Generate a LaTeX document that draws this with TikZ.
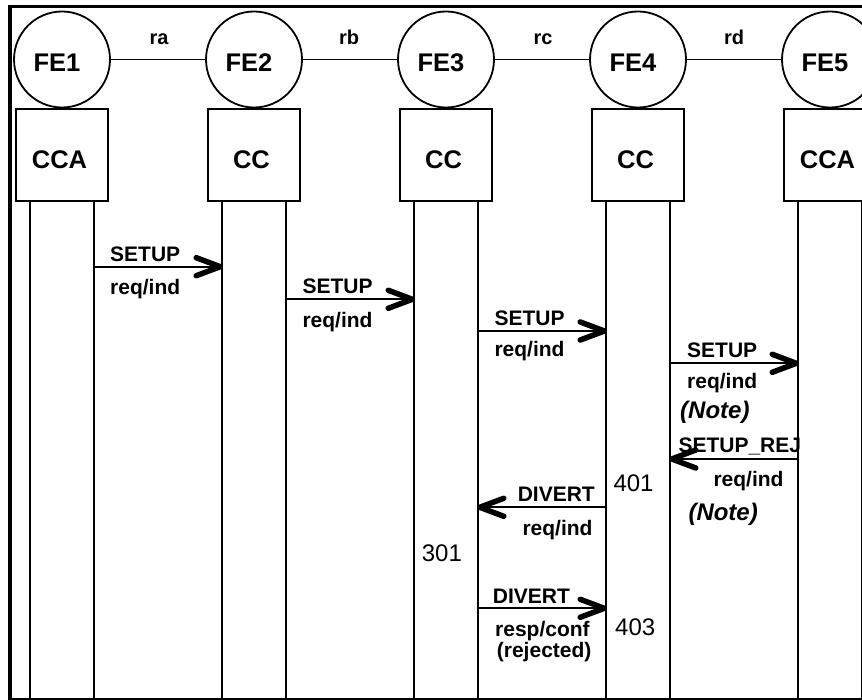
\documentclass[tikz,border=0pt]{standalone}
\usepackage{fontspec}
\setmainfont{Liberation Sans}
\usetikzlibrary{arrows.meta}
\begin{document}
\begin{tikzpicture}[x=1pt,y=-1pt,
  fe/.style={circle,draw,line width=1.8pt,minimum size=96pt,inner sep=0pt},
  ccbox/.style={draw,line width=1.8pt,minimum width=92pt,minimum height=92pt,inner sep=0pt},
  big/.style={font=\fontsize{25.5}{30}\selectfont\bfseries,inner sep=0pt,anchor=base},
  iface/.style={font=\fontsize{20}{24}\selectfont\bfseries,inner sep=0pt,anchor=base},
  lbl/.style={font=\fontsize{21}{24}\selectfont\bfseries,inner sep=0pt,anchor=base west},
  lblr/.style={lbl,anchor=base east},
  note/.style={font=\fontsize{24}{28}\selectfont\bfseries\itshape,inner sep=0pt,anchor=base west},
  num/.style={font=\fontsize{24}{28}\selectfont,inner sep=0pt,anchor=base west},
  life/.style={line width=1.8pt},
  link/.style={line width=1.6pt},
  msg/.style={line width=1.9pt,-{Straight Barb[length=24pt,width=18pt,line width=5.5pt,round]}}]
\useasboundingbox (0,0) rectangle (862,700);
\clip (0,0) rectangle (862,700);
\fill[white] (0,0) rectangle (862,700);
% frame
\draw[line width=3.5pt] (10,700) -- (10,6.5) -- (862,6.5);
\draw[line width=1.4pt] (8,699) -- (862,699);
% entities
\foreach \i/\lab/\nm in {1/FE1/CCA,2/FE2/CC,3/FE3/CC,4/FE4/CC,5/FE5/CCA} {
  \pgfmathsetmacro\cx{62+192*(\i-1)}
  \node[fe] (fe\i) at (\cx,59.5) {};
  \node[big] (fel\i) at (\cx-5,71.7) {\lab};
  \node[ccbox] (cc\i) at (\cx,155) {};
  \node[big] (ccl\i) at (\cx-2.5,168.3) {\nm};
  \coordinate (la\i) at (\cx-32,202);
  \coordinate (lae\i) at (\cx-32,700);
  \coordinate (lb\i) at (\cx+32,202);
  \coordinate (lbe\i) at (\cx+32,700);
  \draw[life] (la\i) -- (lae\i);
  \draw[life] (lb\i) -- (lbe\i);
}
% links between FEs
\draw[link] (fe1) -- (fe2);
\draw[link] (fe2) -- (fe3);
\draw[link] (fe3) -- (fe4);
\draw[link] (fe4) -- (fe5);
\node[iface] (ra) at (159,45) {ra};
\node[iface] (rb) at (349,45) {rb};
\node[iface] (rc) at (543,45) {rc};
\node[iface] (rd) at (734,45) {rd};
% message end points
\coordinate (m1s) at (94,266.7);  \coordinate (m1e) at (223,266.7);
\coordinate (m2s) at (286,299.3); \coordinate (m2e) at (415,299.3);
\coordinate (m3s) at (478,331);   \coordinate (m3e) at (607,331);
\coordinate (m4s) at (670,363.3); \coordinate (m4e) at (799,363.3);
\coordinate (m5s) at (798,459);   \coordinate (m5e) at (669,459);
\coordinate (m6s) at (606,507.3); \coordinate (m6e) at (477,507.3);
\coordinate (m7s) at (478,608.3); \coordinate (m7e) at (607,608.3);
\foreach \k in {1,...,7} { \draw[msg] (m\k s) -- (m\k e); }
% labels
\node[lbl] (t1a) at (110,261.7) {SETUP};
\node[lbl] (t1b) at (110,295) {req/ind};
\node[lbl] (t2a) at (302.3,293.3) {SETUP};
\node[lbl] (t2b) at (302.3,327.3) {req/ind};
\node[lbl] (t3a) at (494.3,325.3) {SETUP};
\node[lbl] (t3b) at (494.3,356.7) {req/ind};
\node[lbl] (t4a) at (687,357.3) {SETUP};
\node[lbl] (t4b) at (687,388.3) {req/ind};
\node[note] (t4c) at (680,418.3) {(Note)};
\node[lbl] (t5a) at (678.3,452.7) {SETUP\_REJ};
\node[lbl] (t5b) at (713.3,486.7) {req/ind};
\node[note] (t5c) at (688.3,520) {(Note)};
\node[lblr] (t6a) at (595,501.7) {DIVERT};
\node[lblr] (t6b) at (592.7,535) {req/ind};
\node[lbl] (t7a) at (492.7,603.3) {DIVERT};
\node[lbl] (t7b) at (495,636) {resp/conf};
\node[lbl] (t7c) at (496.7,657.5) {(rejected)};
\node[num] (n401) at (613.3,491.7) {401};
\node[num] (n301) at (421.7,561.7) {301};
\node[num] (n403) at (615,635.7) {403};
\end{tikzpicture}
\end{document}
